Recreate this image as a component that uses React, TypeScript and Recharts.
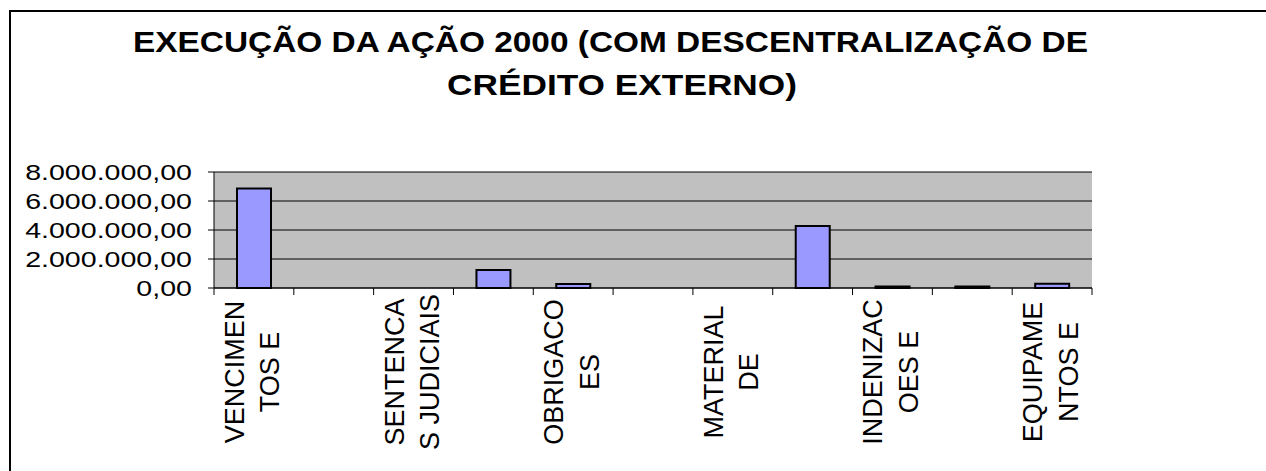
import { BarChart, Bar, XAxis, YAxis, CartesianGrid } from 'recharts';

const categories = ['C01', 'C02', 'C03', 'C04', 'C05', 'C06', 'C07', 'C08', 'C09', 'C10', 'C11'];
const tickLabels: string[][] = [
  ['VENCIMEN', 'TOS E'],
  [],
  ['SENTENCA', 'S JUDICIAIS'],
  [],
  ['OBRIGACO', 'ES'],
  [],
  ['MATERIAL', 'DE'],
  [],
  ['INDENIZAC', 'OES E'],
  [],
  ['EQUIPAME', 'NTOS E'],
];
const values = [6870000, 0, 0, 1240000, 280000, 0, 0, 4280000, 100000, 100000, 300000];
const yTicks = [0, 2000000, 4000000, 6000000, 8000000];
const titleLines = ['EXECUÇÃO DA AÇÃO 2000 (COM DESCENTRALIZAÇÃO DE', 'CRÉDITO EXTERNO)'];

const data = categories.map((name, i) => ({ name, value: values[i], idx: i }));

const W = 1266;
const H = 471;
const PLOT_LEFT = 214;
const PLOT_RIGHT = 1092;
const PLOT_TOP = 172;
const PLOT_BOTTOM = 288;
const BAND = (PLOT_RIGHT - PLOT_LEFT) / categories.length;
const FONT = '"Liberation Sans", Arial, sans-serif';

function formatBR(v: number) {
  const int = Math.floor(v).toString().replace(/\B(?=(\d{3})+(?!\d))/g, '.');
  return `${int},00`;
}

function YTick(props: any) {
  const { x, y, payload } = props;
  return (
    <g transform={`translate(${x},${y})`}>
      <text
        x={0}
        y={0}
        dy="0.355em"
        textAnchor="end"
        fontFamily={FONT}
        fontSize={21.5}
        fill="#000"
        transform="scale(1.33,1)"
      >
        {formatBR(payload.value)}
      </text>
    </g>
  );
}

function XTick(props: any) {
  const { x, y, index } = props;
  const lines = tickLabels[index] ?? [];
  const left = x - BAND / 2;
  const cy = y + 84;
  return (
    <g>
      <line x1={left} y1={y} x2={left} y2={y + 7} stroke="#000" strokeWidth={1} />
      {index === categories.length - 1 && (
        <line x1={left + BAND} y1={y} x2={left + BAND} y2={y + 7} stroke="#000" strokeWidth={1} />
      )}
      {lines.map((t, i) => {
        const bx = x - 10 + i * 35.5;
        return (
          <text
            key={i}
            x={bx}
            y={cy}
            transform={`rotate(-90, ${bx}, ${cy})`}
            textAnchor="middle"
            fontFamily={FONT}
            fontSize={27}
            fill="#000"
          >
            {t}
          </text>
        );
      })}
    </g>
  );
}

export default function App() {
  return (
    <div
      style={{
        position: 'fixed',
        left: 0,
        top: 0,
        width: W,
        height: H,
        overflow: 'hidden',
        background: '#fff',
      }}
    >
      <svg width={W} height={H} style={{ position: 'absolute', left: 0, top: 0 }}>
        <rect x={10} y={11} width={1400} height={600} fill="#fff" stroke="#000" strokeWidth={2} />
        <text
          x={610.5}
          y={52}
          textAnchor="middle"
          fontFamily={FONT}
          fontWeight="bold"
          fontSize={30}
          textLength={955}
          lengthAdjust="spacingAndGlyphs"
        >
          {titleLines[0]}
        </text>
        <text
          x={622}
          y={95}
          textAnchor="middle"
          fontFamily={FONT}
          fontWeight="bold"
          fontSize={30}
          textLength={350}
          lengthAdjust="spacingAndGlyphs"
        >
          {titleLines[1]}
        </text>
      </svg>
      <div style={{ position: 'absolute', left: 0, top: 0 }}>
        <BarChart
          width={W}
          height={H}
          data={data}
          margin={{ top: PLOT_TOP, right: W - PLOT_RIGHT, bottom: 33, left: 0 }}
          barSize={34}
        >
          <CartesianGrid
            vertical={false}
            fill="#c0c0c0"
            fillOpacity={1}
            stroke="#000"
            strokeOpacity={1}
          />
          <XAxis
            dataKey="name"
            height={H - PLOT_BOTTOM - 33}
            interval={0}
            tickLine={false}
            tickSize={0}
            tickMargin={0}
            axisLine={{ stroke: '#000', strokeWidth: 1 }}
            tick={<XTick />}
          />
          <YAxis
            width={PLOT_LEFT}
            domain={[0, 8000000]}
            ticks={yTicks}
            interval={0}
            tickSize={6}
            tickMargin={16}
            tickLine={{ stroke: '#000' }}
            axisLine={{ stroke: '#000', strokeWidth: 1 }}
            tick={<YTick />}
          />
          <Bar
            dataKey="value"
            fill="#9999ff"
            stroke="#000"
            strokeWidth={2}
            isAnimationActive={false}
          />
        </BarChart>
      </div>
    </div>
  );
}
